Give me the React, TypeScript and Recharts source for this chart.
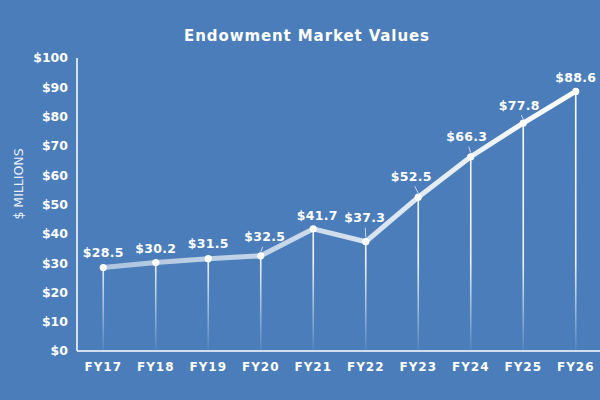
import React from "react";
import { ComposedChart, Line, Bar, XAxis, YAxis, LabelList } from "recharts";

const categories = ["FY17", "FY18", "FY19", "FY20", "FY21", "FY22", "FY23", "FY24", "FY25", "FY26"];
const marketValues = [28.5, 30.2, 31.5, 32.5, 41.7, 37.3, 52.5, 66.3, 77.8, 88.6];
const yTicks = [0, 10, 20, 30, 40, 50, 60, 70, 80, 90, 100];

// label placement style: [dx, lift]
const LABEL_PLACEMENT: [number, number][] = [
  [0, 15], [0, 14], [0, 15], [4, 19], [4, 13], [-1, 24], [-7, 21], [-4, 20], [-4, 18], [0, 14],
];

const data = categories.map((c, i) => ({ name: c, value: marketValues[i] }));

const BG = "#4a7db9";
const FONT = "'DejaVu Sans', Verdana, sans-serif";

const DropLine = (props: any) => {
  const { x, y, width, height } = props;
  const cx = x + width / 2;
  return <line x1={cx} y1={y} x2={cx} y2={y + height} stroke="url(#dropGrad)" strokeWidth={1.6} />;
};

const ValueLabel = (props: any) => {
  const { x, y, value, index } = props;
  const [dx, lift] = LABEL_PLACEMENT[index] || [0, 15];
  const lx = x + dx;
  const ly = y - lift;
  const showLeader = lift > 16;
  return (
    <g>
      {showLeader && (
        <line x1={x + dx * 0.5} y1={ly + 10} x2={x} y2={y - 4} stroke="rgba(255,255,255,0.7)" strokeWidth={1} />
      )}
      <text x={lx} y={ly} dy="0.36em" textAnchor="middle" fill="#fff" fontFamily={FONT} fontWeight="bold" fontSize={12.5} letterSpacing={0.3}>
        {`$${value}`}
      </text>
    </g>
  );
};

const Dot = (props: any) => {
  const { cx, cy } = props;
  return <circle cx={cx} cy={cy} r={3.6} fill="#ffffff" />;
};

export default function App() {
  return (
    <div style={{ position: "fixed", left: 0, top: 0, width: 600, height: 400, background: BG, overflow: "hidden" }}>
      <div
        style={{
          position: "absolute", left: 0, top: 26, width: 614, textAlign: "center", color: "#fff",
          fontFamily: FONT, fontWeight: "bold", fontSize: 15, letterSpacing: 0.9, lineHeight: "20px",
        }}
      >
        Endowment Market Values
      </div>
      <div
        style={{
          position: "absolute", left: 18, top: 184, transform: "translate(-50%, -50%) rotate(-90deg)",
          color: "rgba(255,255,255,0.9)", fontFamily: FONT, fontSize: 12.5, whiteSpace: "nowrap",
        }}
      >
        $ MILLIONS
      </div>
      <div style={{ position: "absolute", left: 0, top: 0 }}>
        <ComposedChart width={602} height={400} data={data} margin={{ top: 58, right: 0, bottom: 0, left: 0 }}>
          <defs>
            <linearGradient id="lineGrad" x1="0" y1="0" x2="1" y2="0">
              <stop offset="0%" stopColor="#ffffff" stopOpacity={0.55} />
              <stop offset="40%" stopColor="#ffffff" stopOpacity={0.7} />
              <stop offset="100%" stopColor="#ffffff" stopOpacity={1} />
            </linearGradient>
            <linearGradient id="dropGrad" gradientUnits="userSpaceOnUse" x1="0" y1="58" x2="0" y2="351">
              <stop offset="0%" stopColor="#ffffff" stopOpacity={1} />
              <stop offset="70%" stopColor="#ffffff" stopOpacity={0.9} />
              <stop offset="100%" stopColor="#ffffff" stopOpacity={0.05} />
            </linearGradient>
          </defs>
          <XAxis
            dataKey="name"
            height={49}
            axisLine={{ stroke: "#fff", strokeWidth: 1.5 }}
            tickLine={false}
            tickMargin={5}
            tick={{ fill: "#fff", fontFamily: FONT, fontWeight: "bold", fontSize: 12, letterSpacing: 1 }}
            interval={0}
          />
          <YAxis
            width={77}
            domain={[0, 100]}
            ticks={yTicks}
            tickFormatter={(v: number) => `$${v}`}
            axisLine={{ stroke: "#fff", strokeWidth: 1.5 }}
            tickLine={false}
            tickMargin={3}
            tick={{ fill: "#fff", fontFamily: FONT, fontWeight: "bold", fontSize: 12.5 }}
            interval={0}
          />
          <Bar dataKey="value" shape={<DropLine />} isAnimationActive={false} />
          <Line
            type="linear"
            dataKey="value"
            stroke="url(#lineGrad)"
            strokeWidth={5}
            dot={<Dot />}
            activeDot={false}
            isAnimationActive={false}
          >
            <LabelList dataKey="value" content={<ValueLabel />} />
          </Line>
        </ComposedChart>
      </div>
    </div>
  );
}
